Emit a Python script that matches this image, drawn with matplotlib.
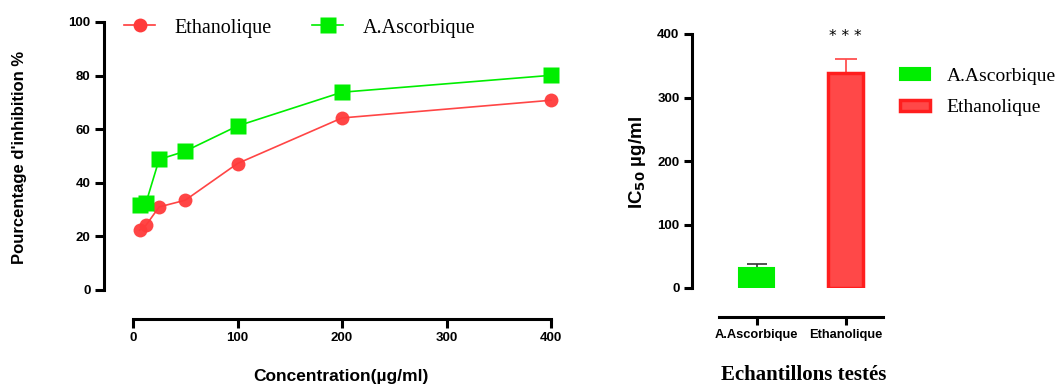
import matplotlib
matplotlib.use("Agg")
import matplotlib.pyplot as plt
from matplotlib.patches import Patch
from matplotlib.lines import Line2D

# Data
concentrations = [6.25, 12.5, 25, 50, 100, 200, 400]
ethanolique = [22.3, 24.2, 31.0, 33.5, 47.2, 64.2, 70.8]
ascorbique = [31.7, 32.6, 48.7, 51.8, 61.2, 73.8, 80.1]

ic50_labels = ["A.Ascorbique", "Ethanolique"]
ic50_values = [31.0, 339.0]
ic50_err = [6.5, 21.0]

RED = "#FF3B3B"
GREEN = "#00EE00"
TICK_FAMILY = "Liberation Sans"
TICK_SIZE = 9.5

W, H = 1058, 384
fig = plt.figure(figsize=(W/100, H/100), dpi=100)

def style_ticks(ax, size, fam):
    for lab in ax.get_xticklabels() + ax.get_yticklabels():
        lab.set_fontfamily(fam)
        lab.set_fontweight("bold")
        lab.set_fontsize(size)

# ---------- Left plot ----------
ax1 = fig.add_axes([133/W, (H-290)/H, 418/W, 268/H])
ax1.plot(concentrations, ethanolique, color=RED, lw=1.2, marker="o", ms=10,
         markerfacecolor=RED, markeredgecolor="none", alpha=0.95, clip_on=False, zorder=3)
ax1.plot(concentrations, ascorbique, color=GREEN, lw=1.2, marker="s", ms=11,
         markerfacecolor=GREEN, markeredgecolor="none", clip_on=False, zorder=3)
ax1.set_xlim(0, 400)
ax1.set_ylim(0, 100)
ax1.set_xticks([0, 100, 200, 300, 400])
ax1.set_yticks([0, 20, 40, 60, 80, 100])
for s in ["top", "right"]:
    ax1.spines[s].set_visible(False)
ax1.spines["left"].set_position(("outward", 21))
ax1.spines["bottom"].set_position(("outward", 21))
for s in ["left", "bottom"]:
    ax1.spines[s].set_linewidth(2.2)
ax1.tick_params(width=2.2, length=6.5, pad=3)
style_ticks(ax1, TICK_SIZE, TICK_FAMILY)

fig.text(20/W, (H-157)/H, "Pourcentage d'inhibition %", rotation=90,
         ha="center", va="center", fontfamily="Liberation Sans",
         fontweight="bold", fontsize=12)
fig.text(341/W, (H-381)/H, "Concentration(µg/ml)", ha="center", va="baseline",
         fontfamily="Liberation Sans", fontweight="bold", fontsize=12.5)

handles1 = [
    Line2D([0], [0], color=RED, lw=1.2, marker="o", ms=10, markeredgecolor="none"),
    Line2D([0], [0], color=GREEN, lw=1.2, marker="s", ms=11, markeredgecolor="none"),
]
fig.legend(handles1, ["Ethanolique", "A.Ascorbique"], ncol=2, frameon=False,
           loc="center left", bbox_to_anchor=(124/W, (H-28)/H),
           prop=dict(family="Liberation Serif", size=14.5),
           handlelength=1.54, columnspacing=2.05, handletextpad=0.94,
           borderaxespad=0, borderpad=0)

# ---------- Right plot ----------
ax2 = fig.add_axes([719/W, (H-288)/H, 164/W, 254/H])
xpos = [0, 1]
bar_w = 0.39
ax2.bar(xpos[0], ic50_values[0], width=bar_w, color=GREEN, edgecolor=GREEN, lw=1.5, zorder=2)
ax2.bar(xpos[1], ic50_values[1], width=bar_w, color="#FF4848", edgecolor="#FF1E1E", lw=2.5, zorder=2)
ax2.errorbar(xpos[0], ic50_values[0], yerr=[[0], [ic50_err[0]]], fmt="none",
             ecolor="#333333", elinewidth=1.2, capsize=7, capthick=1.2, zorder=1)
ax2.errorbar(xpos[1], ic50_values[1], yerr=[[0], [ic50_err[1]]], fmt="none",
             ecolor="#FF5050", elinewidth=1.3, capsize=8, capthick=1.3, zorder=1)
ax2.text(xpos[1], 396, "* * *", ha="center", va="center", fontsize=11,
         fontfamily="DejaVu Sans")
ax2.set_xlim(-0.424, 1.418)
ax2.set_ylim(0, 400)
ax2.set_yticks([0, 100, 200, 300, 400])
ax2.set_xticks(xpos)
ax2.set_xticklabels(ic50_labels)
for s in ["top", "right"]:
    ax2.spines[s].set_visible(False)
ax2.spines["left"].set_position(("outward", 19.5))
ax2.spines["bottom"].set_position(("outward", 20.8))
for s in ["left", "bottom"]:
    ax2.spines[s].set_linewidth(2.2)
ax2.tick_params(width=2.2, length=6, pad=3)
style_ticks(ax2, TICK_SIZE, TICK_FAMILY)
for lab in ax2.get_xticklabels():
    lab.set_fontsize(9.3)

fig.text(637/W, (H-163)/H, r"IC$_{\mathbf{50}}$ µg/ml", rotation=90,
         ha="center", va="center", fontfamily="Liberation Sans",
         fontweight="bold", fontsize=13.5)
fig.text(804/W, (H-380)/H, "Echantillons testés", ha="center", va="baseline",
         fontfamily="Liberation Serif", fontweight="bold", fontsize=15)

handles2 = [
    Patch(facecolor=GREEN, edgecolor=GREEN, lw=1.5),
    Patch(facecolor="#FF4848", edgecolor="#FF1E1E", lw=2.5),
]
fig.legend(handles2, ["A.Ascorbique", "Ethanolique"], frameon=False,
           loc="center left", bbox_to_anchor=(900/W, (H-92)/H),
           prop=dict(family="Liberation Serif", size=14),
           handlelength=1.55, handleheight=0.55, handletextpad=0.85,
           labelspacing=0.75, borderaxespad=0, borderpad=0)

fig.savefig("out.png", dpi=100)
